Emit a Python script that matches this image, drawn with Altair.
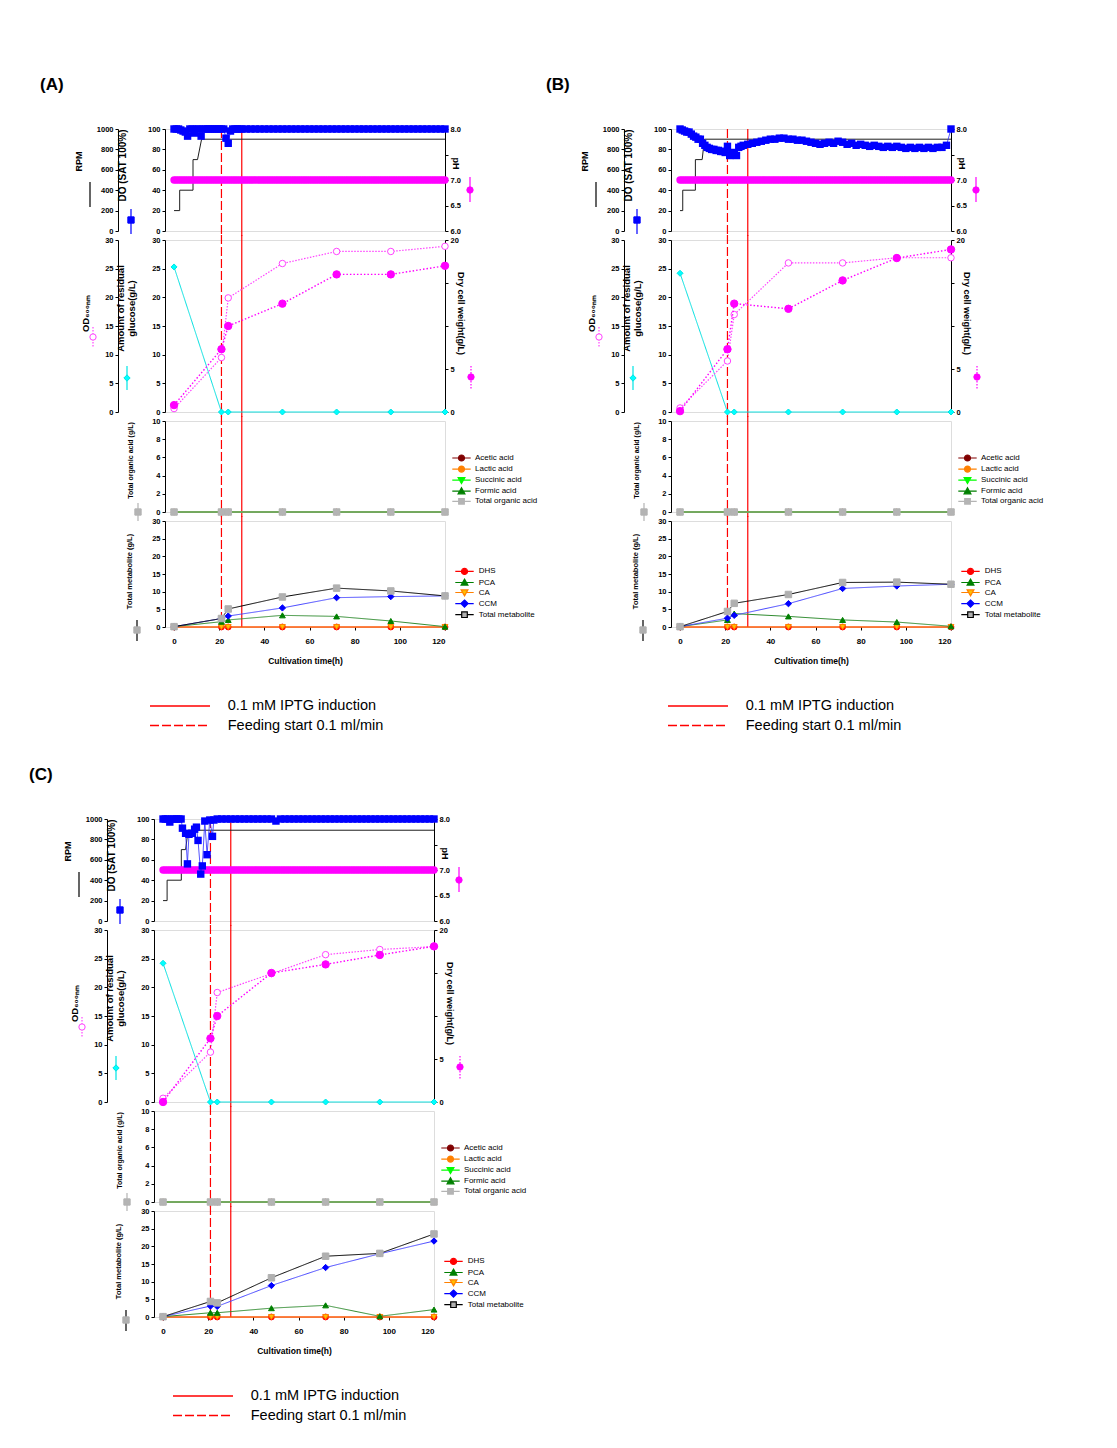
import altair as alt
import pandas as pd

FONT = "Liberation Sans"

# ---------------- shared values ----------------
SAMPLE_T = [0, 21, 24, 48, 72, 96, 120]
EVENT_T = [30, 21]
EVENT_LABELS = ["0.1 mM IPTG induction", "Feeding start 0.1 ml/min"]
X_TICKS = [0, 20, 40, 60, 80, 100, 120]
PH_T = list(range(0, 121))
ACID_NAMES = ["Acetic acid", "Lactic acid", "Succinic acid", "Formic acid", "Total organic acid"]
MET_NAMES = ["DHS", "PCA", "CA", "CCM", "Total metabolite"]

# ---------------- panel A ----------------
RPM_T_A = [0, 2.5, 2.5, 8.4, 8.4, 10.4, 12.2, 120]
RPM_A = [200, 200, 400, 400, 700, 700, 900, 900]
DO_T_A = [0, 1, 2, 3, 4, 5, 6, 7, 8, 9, 10, 11, 12, 13, 14, 15, 16, 17, 18, 19, 20, 21, 22, 23, 24, 25, 26, 27, 28, 29, 30,
          32, 34, 36, 38, 40, 42, 44, 46, 48, 50, 52, 54, 56, 58, 60, 62, 64, 66, 68, 70, 72, 74, 76, 78, 80, 82, 84, 86, 88,
          90, 92, 94, 96, 98, 100, 102, 104, 106, 108, 110, 112, 114, 116, 118, 120]
DO_A = [100, 100, 100, 99, 98, 97, 93, 100, 100, 96, 100, 100, 93, 100, 100, 100, 100, 100, 100, 100, 100, 100, 100, 91, 86, 98, 100, 100, 100, 100, 100,
        100, 100, 100, 100, 100, 100, 100, 100, 100, 100, 100, 100, 100, 100, 100, 100, 100, 100, 100, 100, 100, 100, 100, 100, 100, 100, 100, 100, 100,
        100, 100, 100, 100, 100, 100, 100, 100, 100, 100, 100, 100, 100, 100, 100, 100]
PH_A = [7.0] * len(PH_T)
GLU_A = [25.3, 0, 0, 0, 0, 0, 0]
OD_A = [0.6, 9.5, 19.9, 25.9, 28.0, 28.0, 28.9]
DCW_A = [0.8, 7.3, 10.0, 12.6, 16.0, 16.0, 17.0]
ACETIC_A = [0, 0, 0, 0, 0, 0, 0]
LACTIC_A = [0, 0, 0, 0, 0, 0, 0]
SUCCINIC_A = [0, 0, 0, 0, 0, 0, 0]
FORMIC_A = [0, 0, 0, 0, 0, 0, 0]
TOTAL_ACID_A = [0, 0, 0, 0, 0, 0, 0]
DHS_A = [0, 0, 0, 0, 0, 0, 0]
PCA_A = [0.1, 1.5, 2.0, 3.3, 3.0, 1.7, 0.1]
CA_A = [0, 0, 0, 0, 0, 0, 0]
CCM_A = [0.1, 2.4, 3.1, 5.4, 8.3, 8.6, 8.8]
TOTAL_MET_A = [0.1, 2.4, 5.1, 8.5, 11.0, 10.2, 8.8]

# ---------------- panel B ----------------
RPM_T_B = [0, 1.2, 1.2, 6.8, 6.8, 9.8, 10.8, 120]
RPM_B = [200, 200, 400, 400, 700, 700, 900, 900]
DO_T_B = [0, 1, 2, 3, 4, 5, 6, 7, 8, 9, 10, 11, 12, 13, 14, 15, 16, 17, 18, 19, 20, 21, 22, 23, 24, 25, 26, 27, 28,
          30, 32, 34, 36, 38, 40, 42, 44, 46, 48, 50, 52, 54, 56, 58, 60, 62, 64, 66, 68, 70, 72, 74, 76, 78, 80, 82, 84, 86, 88,
          90, 92, 94, 96, 98, 100, 102, 104, 106, 108, 110, 112, 114, 116, 118, 120]
DO_B = [100, 99, 98, 97, 97, 95, 93, 92, 90, 90, 86, 84, 82, 81, 80, 80, 79, 79, 78, 78, 77, 83, 74, 77, 76, 74, 82, 83, 84,
        85, 86, 87, 88, 89, 90, 90, 91, 91, 90, 90, 89, 89, 88, 87, 86, 85, 86, 87, 86, 88, 87, 85, 86, 84, 85, 84, 83, 84, 83,
        82, 83, 82, 83, 82, 81, 82, 81, 82, 81, 82, 81, 82, 82, 84, 100]
PH_B = [7.0] * len(PH_T)
GLU_B = [24.2, 0, 0, 0, 0, 0, 0]
OD_B = [0.7, 8.9, 17.0, 26.0, 26.0, 26.9, 26.9]
DCW_B = [0.1, 7.3, 12.6, 12.0, 15.3, 17.9, 18.9]
ACETIC_B = [0, 0, 0, 0, 0, 0, 0]
LACTIC_B = [0, 0, 0, 0, 0, 0, 0]
SUCCINIC_B = [0, 0, 0, 0, 0, 0, 0]
FORMIC_B = [0, 0, 0, 0, 0, 0, 0]
TOTAL_ACID_B = [0, 0, 0, 0, 0, 0, 0]
DHS_B = [0, 0, 0, 0, 0, 0, 0]
PCA_B = [0.1, 2.0, 3.8, 3.0, 2.0, 1.4, 0.2]
CA_B = [0, 0, 0, 0, 0, 0, 0]
CCM_B = [0.1, 2.5, 3.3, 6.6, 10.9, 11.6, 12.1]
TOTAL_MET_B = [0.1, 4.4, 6.7, 9.2, 12.6, 12.7, 12.1]

# ---------------- panel C ----------------
RPM_T_C = [0, 1.8, 1.8, 8.1, 8.1, 10.0, 11.1, 120]
RPM_C = [200, 200, 400, 400, 700, 700, 890, 890]
DO_T_C = [0, 1, 2, 3, 4, 5, 6, 7, 8, 8.6, 10, 10.8, 11.5, 13, 14, 14.8, 15.5, 16.7, 17.4, 18.5, 19.5, 20.7, 21.9, 22.5,
          24, 26, 28, 30, 32, 34, 36, 38, 40, 42, 44, 46, 48, 50, 52, 54, 56, 58, 60, 62, 64, 66, 68, 70, 72, 74, 76, 78,
          80, 82, 84, 86, 88, 90, 92, 94, 96, 98, 100, 102, 104, 106, 108, 110, 112, 114, 116, 118, 120]
DO_C = [100, 100, 100, 97, 100, 100, 100, 100, 100, 91, 86, 56, 85, 86, 90, 92, 79, 46, 54, 98, 65, 99, 83, 99,
        100, 100, 100, 100, 100, 100, 100, 100, 100, 100, 100, 100, 100, 98, 100, 100, 100, 100, 100, 100, 100, 100, 100, 100, 100, 100, 100, 100,
        100, 100, 100, 100, 100, 100, 100, 100, 100, 100, 100, 100, 100, 100, 100, 100, 100, 100, 100, 100, 100]
PH_C = [7.0] * len(PH_T)
GLU_C = [24.2, 0, 0, 0, 0, 0, 0]
OD_C = [0.65, 8.7, 19.1, 22.4, 25.7, 26.6, 27.1]
DCW_C = [0.0, 7.4, 10.0, 15.0, 16.0, 17.1, 18.1]
ACETIC_C = [0, 0, 0, 0, 0, 0, 0]
LACTIC_C = [0, 0, 0, 0, 0, 0, 0]
SUCCINIC_C = [0, 0, 0, 0, 0, 0, 0]
FORMIC_C = [0, 0, 0, 0, 0, 0, 0]
TOTAL_ACID_C = [0, 0, 0, 0, 0, 0, 0]
DHS_C = [0, 0, 0, 0, 0, 0, 0]
PCA_C = [0.1, 1.2, 1.2, 2.5, 3.3, 0.2, 2.1]
CA_C = [0, 0, 0, 0, 0, 0, 0]
CCM_C = [0.1, 3.1, 3.0, 8.9, 14.0, 17.9, 21.5]
TOTAL_MET_C = [0.1, 4.4, 4.0, 11.1, 17.2, 18.0, 23.5]

PANELS = [
    dict(label="(A)", rpm_t=RPM_T_A, rpm=RPM_A, do_t=DO_T_A, do=DO_A, ph=PH_A, glu=GLU_A, od=OD_A, dcw=DCW_A,
         acids=[ACETIC_A, LACTIC_A, SUCCINIC_A, FORMIC_A, TOTAL_ACID_A],
         mets=[DHS_A, PCA_A, CA_A, CCM_A, TOTAL_MET_A], evx=-15),
    dict(label="(B)", rpm_t=RPM_T_B, rpm=RPM_B, do_t=DO_T_B, do=DO_B, ph=PH_B, glu=GLU_B, od=OD_B, dcw=DCW_B,
         acids=[ACETIC_B, LACTIC_B, SUCCINIC_B, FORMIC_B, TOTAL_ACID_B],
         mets=[DHS_B, PCA_B, CA_B, CCM_B, TOTAL_MET_B], evx=-3),
    dict(label="(C)", rpm_t=RPM_T_C, rpm=RPM_C, do_t=DO_T_C, do=DO_C, ph=PH_C, glu=GLU_C, od=OD_C, dcw=DCW_C,
         acids=[ACETIC_C, LACTIC_C, SUCCINIC_C, FORMIC_C, TOTAL_ACID_C],
         mets=[DHS_C, PCA_C, CA_C, CCM_C, TOTAL_MET_C], evx=19),
]

# ---------------- layout / style ----------------
W = 280
H1, H2, H3, H4 = 102, 172, 91, 106
XSCALE = alt.Scale(domain=[-4, 120], nice=False, zero=False)
ONE = pd.DataFrame({"k": [0]})

LINE = "M-2.3,0H-0.8M0.8,0H2.3"
P_CIRCLE = LINE + "M0.75,0A0.75,0.75,0,1,1,-0.75,0A0.75,0.75,0,1,1,0.75,0Z"
P_SQUARE = LINE + "M-0.7,-0.7H0.7V0.7H-0.7Z"
P_TRI_UP = "M-2.3,0H-0.55M0.55,0H2.3M0,-0.85L0.85,0.65H-0.85Z"
P_TRI_DOWN = "M-2.3,0H-0.55M0.55,0H2.3M0,0.85L0.85,-0.65H-0.85Z"
P_DIAMOND = "M-2.3,0H-0.85M0.85,0H2.3M0,-0.9L0.9,0L0,0.9L-0.9,0Z"
P_LONG_LINE = "M-5,0H5"


def xenc(show=False):
    if show:
        return alt.X("t:Q", scale=XSCALE, axis=alt.Axis(
            values=X_TICKS, title="Cultivation time(h)", grid=False, domain=False, tickSize=3,
            tickColor="black", labelPadding=7, titlePadding=11, labelFont=FONT, labelFontSize=8,
            labelFontWeight="bold", labelColor="black", titleFont=FONT, titleFontSize=8.5,
            titleFontWeight="bold", titleColor="black"))
    return alt.X("t:Q", scale=XSCALE, axis=None)


def yaxis(orient, title, values, offset=0, tx=0, ty=0, tsize=9.5, fmt="d", expr="datum.label"):
    return alt.Axis(orient=orient, title=title, values=values, offset=offset, grid=False, tickSize=3,
                    tickColor="black", domainColor="black", labelPadding=2, labelFont=FONT,
                    labelFontSize=7.5, labelFontWeight="bold", labelColor="black", format=fmt,
                    labelExpr=expr, titleFont=FONT, titleFontSize=tsize, titleFontWeight="bold",
                    titleColor="black", titleX=tx, titleY=ty)


def yenc(field, domain, axis):
    return alt.Y(f"{field}:Q", scale=alt.Scale(domain=domain, nice=False, zero=False), axis=axis)


def rules(y0, y1, show=False, legend=None):
    ev = pd.DataFrame({"t": EVENT_T, "event": EVENT_LABELS})
    return alt.Chart(ev).mark_rule(color="red", stroke="red", strokeWidth=1.2).encode(
        x=xenc(show), y=alt.value(y0), y2=alt.value(y1),
        strokeDash=alt.StrokeDash("event:N", scale=alt.Scale(domain=EVENT_LABELS, range=[[1, 0], [9, 3]]),
                                  legend=legend))


def deco_rule(x, y0, y1, color, dash=(1, 0), width=1.2):
    return alt.Chart(ONE).mark_rule(color=color, strokeWidth=width, strokeDash=list(dash)).encode(
        x=alt.value(x), y=alt.value(y0), y2=alt.value(y1))


def deco_point(x, y, shape, fill, stroke, size=40):
    return alt.Chart(ONE).mark_point(shape=shape, filled=True, fill=fill, stroke=stroke, size=size,
                                     strokeWidth=1, opacity=1).encode(x=alt.value(x), y=alt.value(y))


def series(df, field, yenc_, show, line_color, shape, fill, stroke, size=38, dash=(1, 0), lw=1.0):
    line = alt.Chart(df).mark_line(color=line_color, strokeWidth=lw, strokeDash=list(dash)).encode(
        x=xenc(show), y=yenc_)
    pts = alt.Chart(df).mark_point(shape=shape, filled=True, fill=fill, stroke=stroke, size=size,
                                   strokeWidth=1, opacity=1).encode(x=xenc(show), y=yenc_)
    return [line, pts]


def key_legend(names, paths, fills, strokes, lx, ly, loff):
    leg = alt.Legend(title=None, orient="none", legendX=lx, legendY=ly, padding=0, symbolSize=64,
                     symbolStrokeWidth=1.2, symbolOpacity=1, labelFont=FONT, labelFontSize=8,
                     labelColor="black", labelOffset=loff, rowPadding=-0.9)
    df = pd.DataFrame({"name": names})
    return alt.Chart(df).mark_point(filled=True, clip=True, size=64, opacity=1).encode(
        x=alt.value(-300), y=alt.value(-300),
        shape=alt.Shape("name:N", scale=alt.Scale(domain=names, range=paths), legend=leg),
        fill=alt.Fill("name:N", scale=alt.Scale(domain=names, range=fills), legend=leg),
        stroke=alt.Stroke("name:N", scale=alt.Scale(domain=names, range=strokes), legend=leg))


def make_panel(p):
    # ---- row 1: RPM / DO / pH ----
    df_rpm = pd.DataFrame({"t": p["rpm_t"], "v": p["rpm"], "i": list(range(len(p["rpm"])))})
    df_do = pd.DataFrame({"t": p["do_t"], "v": p["do"]})
    df_ph = pd.DataFrame({"t": PH_T, "v": p["ph"]})
    y_rpm = yenc("v", [0, 1000], yaxis("left", "RPM", [0, 200, 400, 600, 800, 1000], offset=47, tx=-35, ty=32, tsize=9))
    y_do = yenc("v", [0, 100], yaxis("left", "DO (SAT 100%)", [0, 20, 40, 60, 80, 100], tx=-38, ty=36, tsize=10))
    y_ph = yenc("v", [6, 8], yaxis("right", "pH", [6, 6.5, 7, 7.5, 8], tx=5, ty=34, tsize=9, fmt=".1f",
                                   expr="datum.value == 7.5 ? '' : datum.label"))
    rpm = alt.Chart(df_rpm).mark_line(color="#1e1e1e", strokeWidth=1).encode(x=xenc(), y=y_rpm, order="i:Q")
    ph = alt.Chart(df_ph).mark_point(shape="circle", filled=True, color="#FF00FF", size=55, opacity=1).encode(
        x=xenc(), y=y_ph)
    do = alt.layer(
        alt.Chart(df_do).mark_line(color="#2a2aff", strokeWidth=0.8).encode(x=xenc(), y=y_do),
        alt.Chart(df_do).mark_point(shape="square", filled=True, color="#0000FF", size=55, opacity=1).encode(
            x=xenc(), y=y_do))
    label = alt.Chart(ONE).mark_text(text=p["label"], align="left", baseline="middle", font=FONT, fontSize=17,
                                     fontWeight="bold", color="black").encode(x=alt.value(-125), y=alt.value(-44))
    row1 = alt.layer(
        rules(0, H1 + 5), rpm, ph, do,
        deco_rule(-75, 53, 78, "black"),
        deco_rule(-34, 80, 105, "#0000FF"), deco_point(-34, 91, "square", "#0000FF", "#0000FF"),
        deco_rule(305, 48, 73, "#FF00FF"), deco_point(305, 61, "circle", "#FF00FF", "#FF00FF"),
        label,
    ).resolve_scale(y="independent").properties(width=W, height=H1)

    # ---- row 2: glucose / OD600 / DCW ----
    df2 = pd.DataFrame({"t": SAMPLE_T, "glu": p["glu"], "od": p["od"], "dcw": p["dcw"]})
    y_glu = yenc("glu", [0, 30], yaxis("left", ["Amount of residual", "glucose(g/L)"], [0, 5, 10, 15, 20, 25, 30],
                                       tx=-40, ty=68, tsize=9.5))
    y_od = yenc("od", [0, 30], yaxis("left", "OD₆₀₀ₙₘ", [0, 5, 10, 15, 20, 25, 30], offset=47,
                                     tx=-28, ty=73, tsize=9.5))
    y_dcw = yenc("dcw", [0, 20], yaxis("right", "Dry cell weight(g/L)", [0, 5, 10, 15, 20], tx=10, ty=73, tsize=9,
                                       expr="datum.value == 10 || datum.value == 15 ? '' : datum.label"))
    glu = alt.layer(*series(df2, "glu", y_glu, False, "#00E0E0", "diamond", "#00FFFF", "#00E5E5", size=36))
    od = alt.layer(*series(df2, "od", y_od, False, "#FF44FF", "circle", "white", "#FF44FF", size=42,
                           dash=(1.5, 1.5), lw=1.2))
    dcw = alt.layer(*series(df2, "dcw", y_dcw, False, "#FF00FF", "circle", "#FF00FF", "#FF00FF", size=55,
                            dash=(1.5, 2), lw=1.4))
    row2 = alt.layer(
        rules(-5, H2 + 5), glu, od, dcw,
        deco_rule(-72, 87, 108, "#FF44FF", dash=(1.5, 1.5)), deco_point(-72, 97, "circle", "white", "#FF44FF"),
        deco_rule(-38, 126, 150, "#00E5E5"), deco_point(-38, 138, "diamond", "#00FFFF", "#00E5E5"),
        deco_rule(306, 126, 150, "#FF00FF", dash=(1.5, 1.5)), deco_point(306, 137, "circle", "#FF00FF", "#FF00FF"),
    ).resolve_scale(y="independent").properties(width=W, height=H2)

    # ---- row 3: organic acids ----
    a = p["acids"]
    df3 = pd.DataFrame({"t": SAMPLE_T, "acetic": a[0], "lactic": a[1], "succinic": a[2], "formic": a[3],
                        "total": a[4]})
    ax3 = yaxis("left", "Total organic acid (g/L)", [0, 2, 4, 6, 8, 10], tx=-32, ty=39, tsize=7)
    y3 = lambda f: yenc(f, [0, 10], ax3)
    l3 = []
    l3 += series(df3, "acetic", y3("acetic"), False, "#800000", "circle", "#800000", "#800000", size=30)
    l3 += series(df3, "lactic", y3("lactic"), False, "#FF8000", "circle", "#FF8000", "#FF8000", size=30)
    l3 += series(df3, "succinic", y3("succinic"), False, "#00FF00", "triangle-down", "#00FF00", "#00FF00", size=30)
    l3 += series(df3, "formic", y3("formic"), False, "#008000", "triangle-up", "#008000", "#008000", size=30)
    l3 += series(df3, "total", y3("total"), False, "#B4B4B4", "square", "#B4B4B4", "#B4B4B4", size=42)
    row3 = alt.layer(
        rules(-5, H3 + 5), *l3,
        deco_rule(-27, 82, 100, "#B4B4B4"), deco_point(-27, 91, "square", "#B4B4B4", "#B4B4B4"),
        key_legend(ACID_NAMES, [P_CIRCLE, P_CIRCLE, P_TRI_DOWN, P_TRI_UP, P_SQUARE],
                   ["#800000", "#FF8000", "#00FF00", "#008000", "#B4B4B4"],
                   ["#800000", "#FF8000", "#00FF00", "#008000", "#B4B4B4"], 291.5, 32, 8.5),
    ).properties(width=W, height=H3)

    # ---- row 4: metabolites ----
    m = p["mets"]
    df4 = pd.DataFrame({"t": SAMPLE_T, "dhs": m[0], "pca": m[1], "ca": m[2], "ccm": m[3], "total": m[4]})
    ax4 = yaxis("left", "Total metabolite (g/L)", [0, 5, 10, 15, 20, 25, 30], tx=-32, ty=50, tsize=7.5)
    y4 = lambda f: yenc(f, [0, 30], ax4)
    l4 = []
    l4 += series(df4, "dhs", y4("dhs"), True, "#FF0000", "circle", "#FF0000", "#FF0000", size=34)
    l4 += series(df4, "ca", y4("ca"), True, "#FF8000", "triangle-down", "#FFC000", "#FF8000", size=34)
    l4 += series(df4, "pca", y4("pca"), True, "#2E8B2E", "triangle-up", "#008000", "#008000", size=34)
    l4 += series(df4, "ccm", y4("ccm"), True, "#4646FF", "diamond", "#0000FF", "#0000FF", size=40)
    l4 += series(df4, "total", y4("total"), True, "#000000", "square", "#B0B0B0", "#B0B0B0", size=42)
    ev_leg = alt.Legend(title=None, orient="none", legendX=p["evx"], legendY=177.75, padding=0,
                        symbolType=P_LONG_LINE, symbolSize=144, symbolOffset=22.75,
                        symbolStrokeWidth=1.4, symbolStrokeColor="red", symbolFillColor="transparent",
                        labelFont=FONT, labelFontSize=14.5, labelColor="black", labelOffset=40.5,
                        rowPadding=4.5)
    row4 = alt.layer(
        rules(-5, H4, show=True, legend=ev_leg), *l4,
        deco_rule(-28, 99, 120, "black"), deco_point(-28, 109, "square", "#B0B0B0", "#B0B0B0"),
        key_legend(MET_NAMES, [P_CIRCLE, P_TRI_UP, P_TRI_DOWN, P_DIAMOND, P_SQUARE],
                   ["#FF0000", "#008000", "#FFC000", "#0000FF", "#B0B0B0"],
                   ["#FF0000", "#008000", "#FF8000", "#0000FF", "#000000"], 294.5, 45.4, 9.2),
    ).properties(width=W, height=H4)

    return alt.vconcat(row1, row2, row3, row4, spacing=9, bounds="flush").resolve_scale(
        x="independent", y="independent", strokeDash="independent", shape="independent",
        fill="independent", stroke="independent")


panel_a = make_panel(PANELS[0])
panel_b = make_panel(PANELS[1])
panel_c = make_panel(PANELS[2])

spacer = alt.Chart(ONE).mark_point(opacity=0).encode(x=alt.value(0), y=alt.value(0)).properties(
    width=11, height=1, view=alt.ViewBackground(stroke="transparent"))

# nested concat groups count as zero-size in flush layout, so spacing is the full offset
ab = alt.hconcat(panel_a, panel_b, spacing=506, bounds="flush").resolve_scale(
    strokeDash="independent", shape="independent", fill="independent", stroke="independent")
top = alt.hconcat(spacer, ab, spacing=0, bounds="flush").resolve_scale(
    strokeDash="independent", shape="independent", fill="independent", stroke="independent")

chart = alt.vconcat(top, panel_c, spacing=690, bounds="flush").resolve_scale(
    strokeDash="independent", shape="independent", fill="independent", stroke="independent"
).properties(
    padding={"left": 20, "top": 67, "right": 5, "bottom": 5}
).configure_view(stroke="black", strokeWidth=1).configure_legend(
    symbolBaseStrokeColor="red"
).configure(font=FONT, background="white")

chart.save("out.html", embed_options={"renderer": "svg", "actions": False})
